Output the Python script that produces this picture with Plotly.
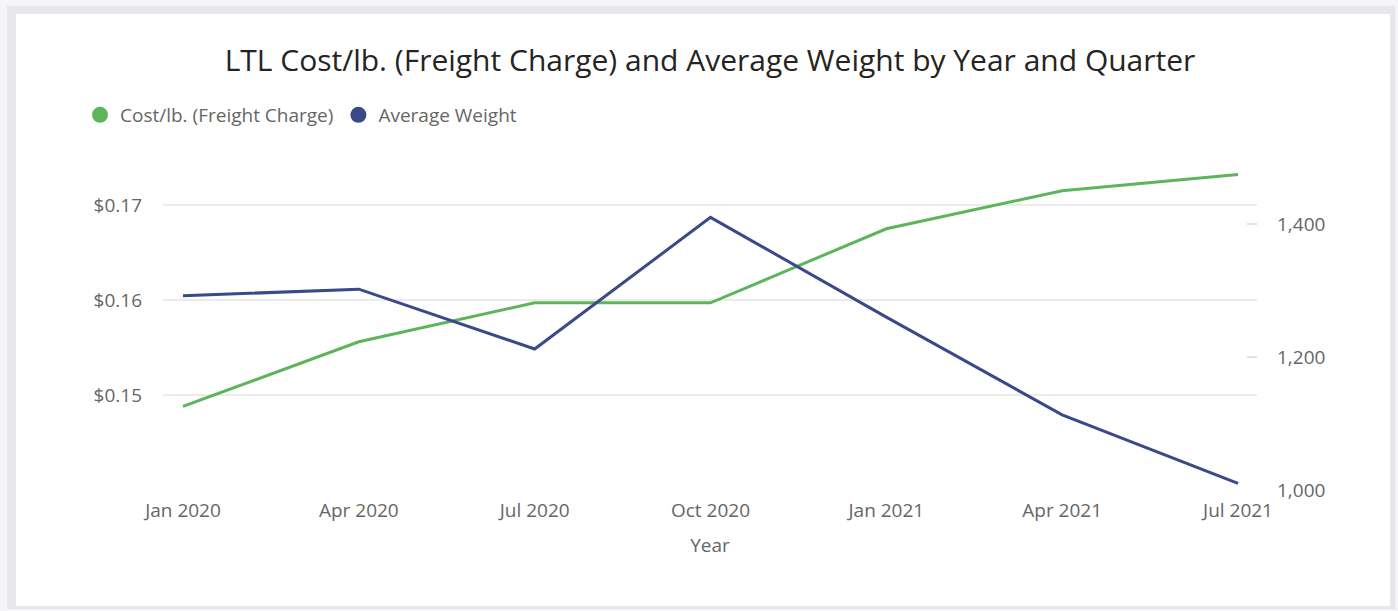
import plotly.graph_objects as go

quarters = ["Jan 2020", "Apr 2020", "Jul 2020", "Oct 2020", "Jan 2021", "Apr 2021", "Jul 2021"]
cost_per_lb = [0.1488, 0.1556, 0.1597, 0.1597, 0.1675, 0.1715, 0.1732]
avg_weight = [1292, 1302, 1212, 1410, 1260, 1113, 1010]

GREEN = "#5DB55B"
NAVY = "#3A4988"
FONT = "Open Sans"

# plot-area geometry (pixels) used to place the frame shapes
W, H = 1398, 611
L, R, T, B = 163, 141, 165, 121
pw, ph = W - L - R, H - T - B


def px_x(x):
    return (x - L) / pw


def px_y(y):
    return (H - B - y) / ph


fig = go.Figure()
fig.add_trace(go.Scatter(x=quarters, y=cost_per_lb, mode="lines", name="Cost/lb. (Freight Charge)",
                         line=dict(color=GREEN, width=3), showlegend=False, yaxis="y"))
fig.add_trace(go.Scatter(x=quarters, y=avg_weight, mode="lines", name="Average Weight",
                         line=dict(color=NAVY, width=3), showlegend=False, yaxis="y2"))
# legend entries (circle markers)
fig.add_trace(go.Scatter(x=[None], y=[None], mode="markers", name="Cost/lb. (Freight Charge)",
                         marker=dict(color=GREEN, size=16)))
fig.add_trace(go.Scatter(x=[None], y=[None], mode="markers", name="Average Weight",
                         marker=dict(color=NAVY, size=16)))

shapes = [
    dict(type="rect", xref="paper", yref="paper", layer="below",
         x0=px_x(7), x1=px_x(1395), y0=px_y(609), y1=px_y(6),
         fillcolor="#e7e6eb", line=dict(width=0)),
    dict(type="rect", xref="paper", yref="paper", layer="below",
         x0=px_x(16), x1=px_x(1390), y0=px_y(606), y1=px_y(14),
         fillcolor="#ffffff", line=dict(width=0)),
]

TICK = 19

fig.update_layout(
    width=W, height=H,
    margin=dict(l=L, r=R, t=T, b=B, pad=0),
    paper_bgcolor="#f5f4f7",
    plot_bgcolor="rgba(0,0,0,0)",
    font=dict(family=FONT, color="#666666", size=TICK),
    title=dict(text="LTL Cost/lb. (Freight Charge) and Average Weight by Year and Quarter",
               x=0.5, xref="paper", xanchor="center",
               y=1 - 60 / H, yref="container", yanchor="middle",
               font=dict(family=FONT, size=30, color="#252423")),
    legend=dict(orientation="h", x=px_x(80), xanchor="left", y=px_y(115), yanchor="middle",
                font=dict(family=FONT, size=19, color="#666666"),
                bgcolor="rgba(0,0,0,0)", itemwidth=30, tracegroupgap=0),
    shapes=shapes,
    xaxis=dict(type="category", range=[-0.1137, 6.108], showgrid=False, zeroline=False,
               showline=False, ticks="", ticklabelstandoff=7,
               tickfont=dict(size=TICK, color="#666666"),
               title=dict(text="Year", font=dict(size=TICK, color="#666666"), standoff=16)),
    yaxis=dict(range=[0.14, 0.17421], tickvals=[0.15, 0.16, 0.17], tickformat="$.2f",
               showgrid=True, gridcolor="#ebebeb", gridwidth=2, zeroline=False,
               showline=False, ticks="", ticklabelstandoff=20,
               tickfont=dict(size=TICK, color="#666666")),
    yaxis2=dict(overlaying="y", side="right", range=[1000, 1488.7], tickvals=[1000, 1200, 1400],
                tickformat=",", showgrid=False, zeroline=False, showline=False,
                ticks="inside", ticklen=10, tickcolor="#e3e3e3", tickwidth=1.5,
                ticklabelstandoff=19, tickfont=dict(size=TICK, color="#666666")),
    hovermode=False,
)

fig.write_html("out.html")
